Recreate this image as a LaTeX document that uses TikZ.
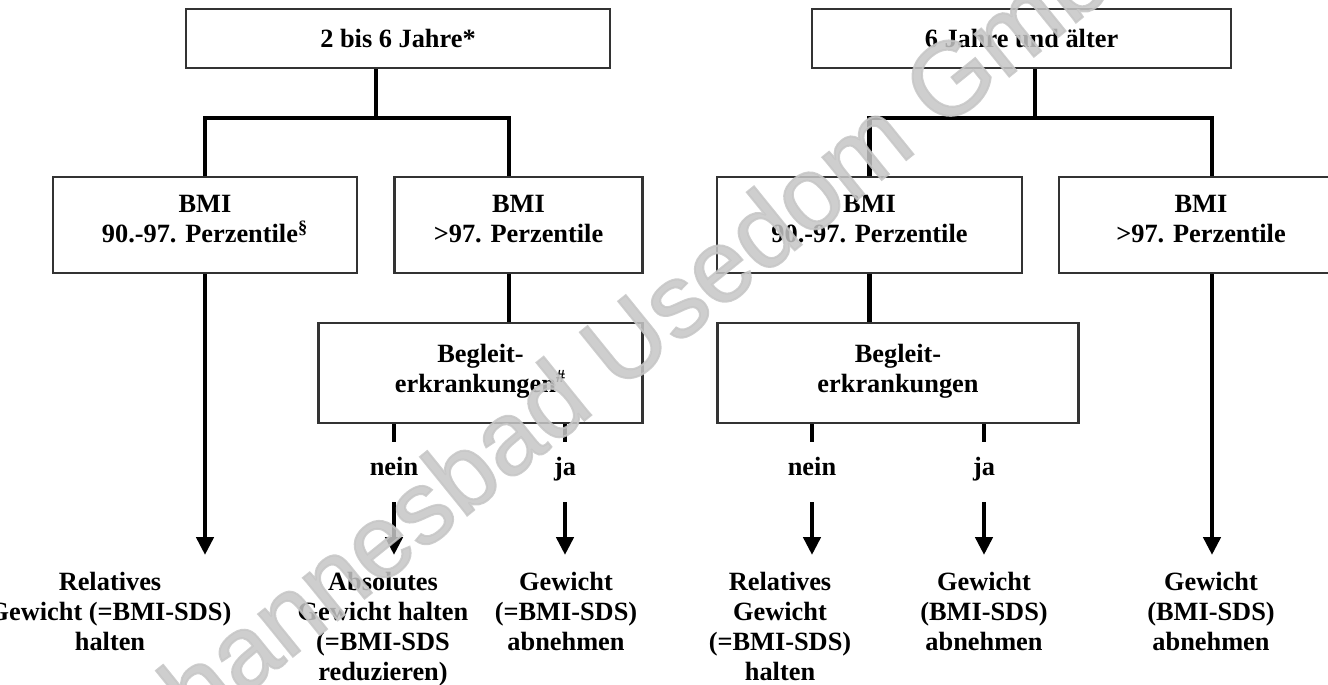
\documentclass[tikz,border=0pt]{standalone}
\usepackage{fontspec}
\setmainfont{Liberation Serif}
\newfontfamily\wmfont{Liberation Sans}[FakeBold=2]
\usetikzlibrary{arrows.meta,positioning}

\tikzset{
  box/.style={draw=black!80, line width=1.2pt, align=center, inner sep=0pt,
    font=\fontsize{15}{17}\selectfont\bfseries},
  link/.style={line width=2.6pt},
  arrow/.style={link, -{Triangle[length=0.36cm,width=0.34cm]}},
  answer/.style={inner sep=0pt, minimum height=1.2cm, text height=0.3cm, text depth=0.15cm,
    font=\fontsize{15}{17}\selectfont\bfseries},
  result/.style={align=center, anchor=north, inner xsep=0pt, inner ysep=0.34cm,
    font=\fontsize{15}{17}\selectfont\bfseries},
}

\begin{document}
\begin{tikzpicture}[x=0.02cm,y=-0.02cm]
  \useasboundingbox (0,0) rectangle (1328,684);

  % age groups
  \node[box, minimum width=8.49cm, minimum height=1.18cm] (age1) at (398,38.5) {2 bis 6 Jahre*};
  \node[box, minimum width=8.38cm, minimum height=1.18cm] (age2) at (1021.5,38.5) {6 Jahre und älter};

  % BMI boxes
  \node[box, minimum width=6.09cm, minimum height=1.92cm, text depth=0.24cm] (bmi1) at (205,225) {BMI\\90.-97. Perzentile\textsuperscript{\S}};
  \node[box, minimum width=4.96cm, minimum height=1.92cm, text depth=0.24cm] (bmi2) at (518.5,225) {BMI\\>97. Perzentile};
  \node[box, minimum width=6.09cm, minimum height=1.92cm, text depth=0.24cm] (bmi3) at (869.5,225) {BMI\\90.-97. Perzentile};
  \node[box, minimum width=5.68cm, minimum height=1.92cm, text depth=0.24cm] (bmi4) at (1201,225) {BMI\\>97. Perzentile};

  % comorbidity boxes
  \node[box, minimum width=6.48cm, minimum height=2cm, text depth=0.2cm] (beg1) at (480.5,373) {Begleit-\\erkrankungen\textsuperscript{\#}};
  \node[box, minimum width=7.22cm, minimum height=2cm, text depth=0.2cm] (beg2) at (898,373) {Begleit-\\erkrankungen};

  \node[answer] (nein1) at (394,472) {nein};
  \node[answer] (ja1) at (565,472) {ja};
  \node[answer] (nein2) at (812,472) {nein};
  \node[answer] (ja2) at (984,472) {ja};

  % goals
  \node[result] (res1) at (110,555) {Relatives\\Gewicht (=BMI-SDS)\\halten};
  \node[result] (res2) at (383,555) {Absolutes\\Gewicht halten\\(=BMI-SDS\\reduzieren)};
  \node[result] (res3) at (566,555) {Gewicht\\(=BMI-SDS)\\abnehmen};
  \node[result] (res4) at (780,555) {Relatives\\Gewicht\\(=BMI-SDS)\\halten};
  \node[result] (res5) at (984,555) {Gewicht\\(BMI-SDS)\\abnehmen};
  \node[result] (res6) at (1211,555) {Gewicht\\(BMI-SDS)\\abnehmen};

  \coordinate (split1) at (376,118);
  \coordinate (split2) at (1035,118);
  \coordinate (fork1) at (509,118);
  \coordinate (fork2) at (1212,118);

  % left tree
  \draw[link] (age1.south -| split1) -- (split1);
  \draw[link] (bmi1.north) |- (fork1) -- (fork1 |- bmi2.north);
  \draw[arrow] (bmi1.south) -- (bmi1.south |- res1.north);
  \draw[link] (fork1 |- bmi2.south) -- (fork1 |- beg1.north);
  \draw[link] (beg1.south -| nein1) -- (nein1.north);
  \draw[arrow] (nein1.south) -- (res2.north -| nein1);
  \draw[link] (beg1.south -| ja1) -- (ja1.north);
  \draw[arrow] (ja1.south) -- (ja1.south |- res3.north);

  % right tree
  \draw[link] (age2.south -| split2) -- (split2);
  \draw[link] (bmi3.north) |- (fork2) -- (fork2 |- bmi4.north);
  \draw[link] (bmi3.south) -- (bmi3.south |- beg2.north);
  \draw[link] (beg2.south -| nein2) -- (nein2.north);
  \draw[arrow] (nein2.south) -- (res4.north -| nein2);
  \draw[link] (beg2.south -| ja2) -- (ja2.north);
  \draw[arrow] (ja2.south) -- (res5.north);
  \draw[arrow] (fork2 |- bmi4.south) -- (fork2 |- res6.north);

  % watermark
  \node[rotate=39, text=gray!45, opacity=0.85, inner sep=0pt,
    font=\wmfont\fontsize{59}{59}\selectfont] (mark) at (620,344) {Johannesbad Usedom GmbH};
\end{tikzpicture}
\end{document}
